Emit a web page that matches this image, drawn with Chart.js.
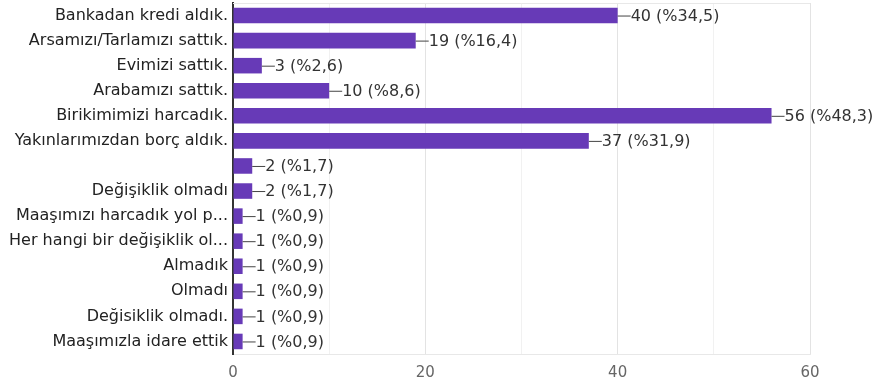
<!DOCTYPE html>
<html>
<head>
<meta charset="utf-8">
<script src="https://cdn.jsdelivr.net/npm/chart.js@4"></script>
<style>
  html, body { margin: 0; padding: 0; background: #ffffff; }
  #wrap { width: 876px; height: 387px; position: relative; }
</style>
</head>
<body>
<div id="wrap"><canvas id="c" width="876" height="387"></canvas></div>
<script>
const categories = [
  "Bankadan kredi aldık.",
  "Arsamızı/Tarlamızı sattık.",
  "Evimizi sattık.",
  "Arabamızı sattık.",
  "Birikimimizi harcadık.",
  "Yakınlarımızdan borç aldık.",
  "",
  "Değişiklik olmadı",
  "Maaşımızı harcadık yol p...",
  "Her hangi bir değişiklik ol...",
  "Almadık",
  "Olmadı",
  "Değisiklik olmadı.",
  "Maaşımızla idare ettik"
];
const counts = [40, 19, 3, 10, 56, 37, 2, 2, 1, 1, 1, 1, 1, 1];
const percents = ["%34,5", "%16,4", "%2,6", "%8,6", "%48,3", "%31,9", "%1,7", "%1,7", "%0,9", "%0,9", "%0,9", "%0,9", "%0,9", "%0,9"];
const xTicks = [0, 20, 40, 60];

const FONT = '"DejaVu Sans", "Liberation Sans", Arial, sans-serif';

const valueLabels = {
  id: 'valueLabels',
  afterDatasetsDraw(chart) {
    const ctx = chart.ctx;
    const meta = chart.getDatasetMeta(0);
    ctx.save();
    ctx.font = '16px ' + FONT;
    ctx.textBaseline = 'middle';
    ctx.textAlign = 'left';
    meta.data.forEach((bar, i) => {
      const x = bar.x, y = bar.y;
      ctx.strokeStyle = '#444';
      ctx.lineWidth = 1;
      ctx.beginPath();
      ctx.moveTo(x, y + 0.5);
      ctx.lineTo(x + 13, y + 0.5);
      ctx.stroke();
      ctx.fillStyle = '#333';
      ctx.fillText(counts[i] + ' (' + percents[i] + ')', x + 13, y + 1);
    });
    ctx.restore();
  }
};

const frame = {
  id: 'frame',
  beforeDatasetsDraw(chart) {
    const { ctx, chartArea } = chart;
    ctx.save();
    ctx.strokeStyle = '#e8e8e8';
    ctx.lineWidth = 1;
    ctx.beginPath();
    ctx.moveTo(chartArea.left, chartArea.top + 0.5);
    ctx.lineTo(chartArea.right, chartArea.top + 0.5);
    ctx.stroke();
    ctx.restore();
  }
};

new Chart(document.getElementById('c'), {
  type: 'bar',
  data: {
    labels: categories,
    datasets: [{
      data: counts,
      backgroundColor: '#673ab7',
      borderWidth: 0,
      categoryPercentage: 0.62,
      barPercentage: 1.0
    }]
  },
  options: {
    indexAxis: 'y',
    responsive: false,
    animation: false,
    events: [],
    layout: { padding: { top: 3, right: 66, left: 0, bottom: 0 } },
    plugins: { legend: { display: false }, tooltip: { enabled: false } },
    scales: {
      x: {
        min: 0,
        max: 60,
        afterFit(scale) { scale.height = 33; scale.paddingLeft = 0; scale.paddingRight = 0; },
        afterBuildTicks(scale) {
          const t = [];
          for (let v = 0; v <= 60; v += 10) t.push({ value: v });
          scale.ticks = t;
        },
        ticks: {
          font: { family: FONT, size: 15 },
          color: '#666',
          padding: 10,
          maxRotation: 0,
          autoSkip: false,
          callback: (v) => xTicks.includes(v) ? String(v) : ''
        },
        grid: {
          drawTicks: false,
          color: (c) => {
            const v = c.tick ? c.tick.value : 0;
            if (v === 0) return 'rgba(0,0,0,0)';
            return v % 20 === 0 ? '#e3e3e3' : '#f1f1f1';
          },
          lineWidth: 1
        },
        border: { display: true, color: '#e8e8e8', width: 1 }
      },
      y: {
        afterFit(scale) { scale.width = 233; scale.paddingTop = 0; scale.paddingBottom = 0; },
        ticks: {
          font: { family: FONT, size: 16 },
          color: '#222',
          padding: 5,
          autoSkip: false
        },
        grid: { display: false, drawTicks: false },
        border: { display: true, color: '#333', width: 2 }
      }
    }
  },
  plugins: [frame, valueLabels]
});
</script>
</body>
</html>
